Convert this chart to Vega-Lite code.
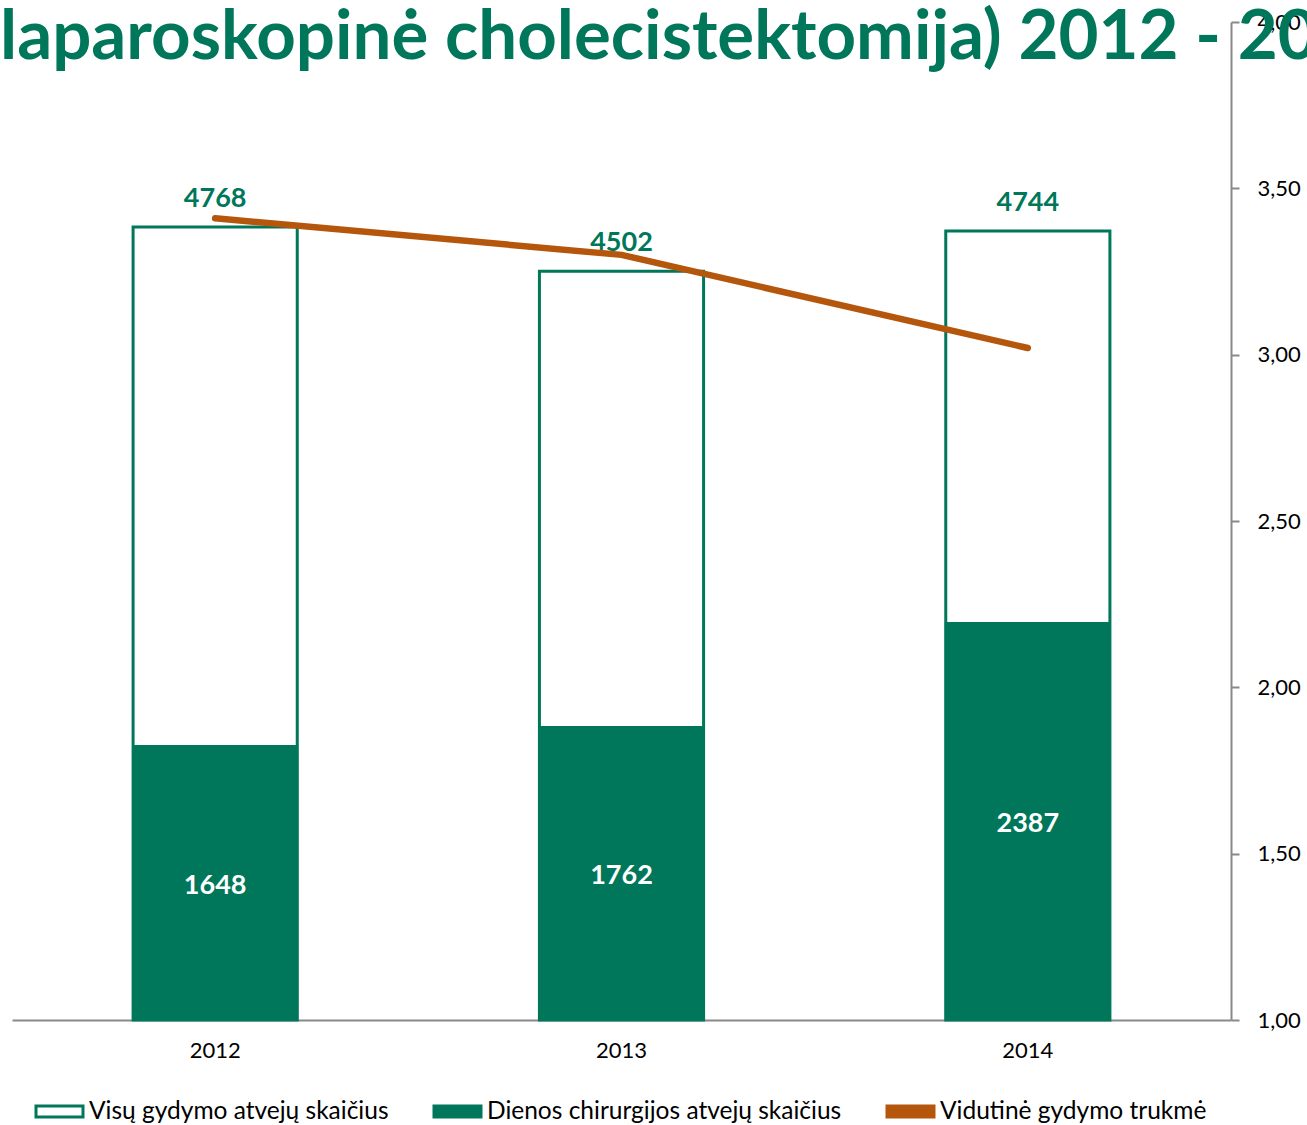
{
  "$schema": "https://vega.github.io/schema/vega-lite/v6.json",
  "width": 1219,
  "height": 998,
  "autosize": {"type": "none"},
  "padding": {"left": 12, "top": 22, "right": 76, "bottom": 105},
  "background": "white",
  "config": {
    "view": {"stroke": null},
    "font": "Lato",
    "legend": {
      "labelFontSize": 24.5,
      "labelColor": "black",
      "labelFont": "Lato",
      "labelOffset": 3,
      "labelLimit": 600,
      "columnPadding": 39,
      "symbolSize": 2500,
      "symbolType": "M-0.94,-0.22H0.94V0.22H-0.94Z",
      "symbolStrokeWidth": 3,
      "symbolOpacity": 1
    }
  },
  "title": {
    "text": "laparoskopinė cholecistektomija) 2012 - 2014 m.",
    "anchor": "start",
    "frame": "group",
    "orient": "top",
    "font": "Lato",
    "fontSize": 69,
    "fontWeight": "bold",
    "color": "#00775A",
    "baseline": "alphabetic",
    "offset": 0,
    "dx": -12,
    "dy": 117
  },
  "data": {
    "values": [
      {"year": "2012", "total": 4768, "day": 1648, "avg": 3.41},
      {"year": "2013", "total": 4502, "day": 1762, "avg": 3.30},
      {"year": "2014", "total": 4744, "day": 2387, "avg": 3.02}
    ]
  },
  "encoding": {
    "x": {
      "field": "year",
      "type": "nominal",
      "scale": {"paddingInner": 0.596, "paddingOuter": 0.298},
      "axis": {
        "title": null,
        "labelAngle": 0,
        "labelFontSize": 22,
        "labelColor": "black",
        "labelPadding": 20,
        "ticks": false,
        "domainColor": "#898989",
        "domainWidth": 2
      }
    }
  },
  "layer": [
    {
      "encoding": {
        "y": {"type": "quantitative", "scale": {"domain": [0, 6000]}, "axis": null}
      },
      "layer": [
        {
          "mark": {"type": "bar", "strokeWidth": 3},
          "encoding": {
            "y": {"field": "total", "type": "quantitative"},
            "fill": {
              "datum": "Visų gydymo atvejų skaičius",
              "type": "nominal",
              "scale": {
                "domain": ["Visų gydymo atvejų skaičius", "Dienos chirurgijos atvejų skaičius", "Vidutinė gydymo trukmė"],
                "range": ["white", "#00775A", "#B5560D"]
              },
              "legend": {"title": null, "orient": "none", "direction": "horizontal", "legendX": 21, "legendY": 1063, "padding": 0}
            },
            "stroke": {
              "datum": "Visų gydymo atvejų skaičius",
              "type": "nominal",
              "scale": {
                "domain": ["Visų gydymo atvejų skaičius", "Dienos chirurgijos atvejų skaičius", "Vidutinė gydymo trukmė"],
                "range": ["#00775A", "#00775A", "#B5560D"]
              },
              "legend": {"title": null, "orient": "none", "direction": "horizontal", "legendX": 21, "legendY": 1063, "padding": 0}
            }
          }
        },
        {
          "mark": {"type": "bar", "strokeWidth": 2},
          "encoding": {
            "y": {"field": "day", "type": "quantitative"},
            "fill": {"datum": "Dienos chirurgijos atvejų skaičius", "type": "nominal"},
            "stroke": {"datum": "Dienos chirurgijos atvejų skaičius", "type": "nominal"}
          }
        },
        {
          "mark": {"type": "text", "dy": -28, "baseline": "middle", "fontSize": 27, "fontWeight": "bold", "color": "#00775A"},
          "encoding": {
            "y": {"field": "total", "type": "quantitative"},
            "text": {"field": "total", "type": "quantitative"}
          }
        },
        {
          "transform": [{"calculate": "datum.day / 2", "as": "dayMid"}],
          "mark": {"type": "text", "dy": 3, "baseline": "middle", "fontSize": 27, "fontWeight": "bold", "color": "white"},
          "encoding": {
            "y": {"field": "dayMid", "type": "quantitative"},
            "text": {"field": "day", "type": "quantitative"}
          }
        }
      ]
    },
    {
      "mark": {"type": "line", "strokeWidth": 6.5, "strokeCap": "round"},
      "encoding": {
        "y": {
          "field": "avg",
          "type": "quantitative",
          "scale": {"domain": [1, 4], "zero": false},
          "axis": {
            "orient": "right",
            "title": null,
            "values": [1, 1.5, 2, 2.5, 3, 3.5, 4],
            "labelExpr": "replace(format(datum.value, '.2f'), '.', ',')",
            "labelFontSize": 22,
            "labelColor": "black",
            "labelPadding": 18,
            "tickSize": 8,
            "tickColor": "#898989",
            "tickWidth": 2,
            "domainColor": "#898989",
            "domainWidth": 2,
            "grid": false
          }
        },
        "stroke": {"datum": "Vidutinė gydymo trukmė", "type": "nominal"}
      }
    }
  ],
  "resolve": {"scale": {"y": "independent"}}
}
